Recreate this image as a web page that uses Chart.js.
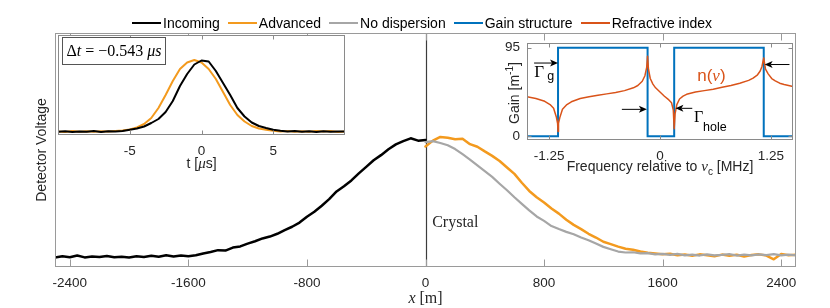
<!DOCTYPE html>
<html>
<head>
<meta charset="utf-8">
<script src="https://cdn.jsdelivr.net/npm/chart.js@4.4.1/dist/chart.umd.min.js"></script>
<style>
  html, body { margin: 0; padding: 0; background: #fff; }
  #wrap { position: relative; width: 830px; height: 308px; overflow: hidden; }
  canvas { position: absolute; display: block; }
  #legend {
    position: absolute; left: 132px; top: 15px; height: 16px; line-height: 16px;
    display: flex; align-items: center; white-space: nowrap;
    font: 14px "Liberation Sans", Arial, Helvetica, sans-serif; color: #000;
  }
  #legend .item { display: flex; align-items: center; margin-right: 8px; }
  #legend .ln { display: inline-block; width: 29px; margin-right: 2px; }
</style>
</head>
<body>
<div id="wrap">
  <canvas id="main" width="830" height="308" style="left:0;top:0"></canvas>
  <canvas id="pulse" width="320" height="150" style="left:40px;top:25px"></canvas>
  <canvas id="gain" width="350" height="150" style="left:470px;top:28px"></canvas>
  <div id="legend"></div>
</div>
<script>
const SANS = '"Liberation Sans", Arial, Helvetica, sans-serif';
const SERIF = '"Liberation Serif", "Times New Roman", serif';
const TXT = '#262626';
const C_IN = '#000000', C_ADV = '#F39A1E', C_ND = '#A6A6A6', C_GAIN = '#0072BD', C_N = '#D95319';

// main panel: position along fibre [m] vs detector voltage (arb.)
const mainXTicks = [-2400, -1600, -800, 0, 800, 1600, 2400];
const xIncoming = [-2500,-2450,-2400,-2350,-2300,-2250,-2200,-2150,-2100,-2050,-2000,-1950,-1900,-1850,-1800,-1750,-1700,-1650,-1600,-1550,-1500,-1450,-1400,-1350,-1300,-1250,-1200,-1150,-1100,-1050,-1000,-950,-900,-850,-800,-750,-700,-650,-600,-550,-500,-450,-400,-350,-300,-250,-200,-150,-100,-50,0];
const vIncoming = [4.0,4.6,4.2,4.9,4.1,4.5,4.3,4.7,4.2,4.4,4.1,4.6,4.3,4.8,4.4,5.0,4.5,4.9,4.6,5.0,5.8,6.4,7.2,7.0,8.3,8.8,10.0,11.0,12.2,13.0,14.2,15.8,17.2,19.0,21.5,23.6,26.2,29.0,32.3,34.5,37.0,40.0,42.8,45.6,47.8,50.3,52.4,53.8,55.0,54.0,54.3];
const xOut = [0,50,100,150,200,250,300,350,400,450,500,550,600,650,700,750,800,850,900,950,1000,1050,1100,1150,1200,1250,1300,1350,1400,1450,1500,1550,1600,1650,1700,1750,1800,1850,1900,1950,2000,2050,2100,2150,2200,2250,2300,2350,2400,2450,2500];
const vAdvanced = [51.5,54.0,55.6,55.2,54.6,54.8,52.5,51.4,49.4,47.5,45.3,42.5,39.8,36.0,32.5,29.8,27.6,25.0,22.8,20.2,18.0,16.2,14.2,12.6,10.8,9.8,8.7,7.8,7.4,6.6,6.1,5.8,5.4,5.7,5.0,5.3,4.8,5.4,5.0,4.6,5.3,4.8,5.2,4.5,5.1,5.4,4.9,3.3,5.6,5.0,5.2];
const vNoDisp = [53.4,53.8,53.0,52.0,50.4,48.2,45.9,43.4,41.0,38.5,35.6,32.8,29.8,27.0,24.2,21.6,19.7,17.5,16.2,15.0,14.0,12.6,11.4,10.0,8.6,7.6,6.6,6.2,6.3,5.8,5.9,5.4,5.6,5.2,5.6,5.0,5.3,4.9,5.4,5.0,5.2,5.5,4.9,5.3,5.0,5.4,5.1,5.5,5.0,5.3,5.0];

// inset 1: pulses in time [us]
const pulseTicks = [-5, 0, 5];
const tPulse = [-10,-9.5,-9,-8.5,-8,-7.5,-7,-6.5,-6,-5.5,-5,-4.5,-4,-3.5,-3,-2.5,-2,-1.5,-1,-0.5,0,0.5,1,1.5,2,2.5,3,3.5,4,4.5,5,5.5,6,6.5,7,7.5,8,8.5,9,9.5,10];
const pulseIn = [3.2,3.8,3.0,3.6,3.3,3.9,3.1,3.7,3.4,4.0,5.2,6.5,8.5,12,16,23,34,49,61,70.5,74.5,73.5,64,52,40,27,18.5,12.5,9,7,5.2,4.2,3.5,3.9,3.2,3.7,3.1,3.8,3.3,3.6,3.4];
const pulseAdv = [3.6,3.1,3.9,3.3,3.7,3.2,3.8,3.4,4.0,4.6,5.5,7.5,11,17,27,40,54,66,72.5,75,72.5,66,56,43,30,20,13.5,9,6.5,5.2,4.3,3.6,4.0,3.3,3.8,3.2,4.1,3.4,3.9,3.1,3.6];

// inset 2: gain structure and refractive index vs frequency [MHz]
const gainXTicks = [-1.25, 0, 1.25];
const gainYTicks = [0, 95];
const fGain = [-1.5,-1.15,-1.15,-0.14,-0.14,0.16,0.16,1.17,1.17,1.5];
const gGain = [0,0,95,95,0,0,95,95,0,0];
const fIndex = [-1.5,-1.4,-1.3,-1.24,-1.2,-1.17,-1.155,-1.15,-1.145,-1.13,-1.1,-1.05,-1.0,-0.9,-0.8,-0.7,-0.6,-0.5,-0.4,-0.3,-0.25,-0.2,-0.17,-0.15,-0.14,-0.13,-0.11,-0.08,-0.05,0,0.05,0.1,0.13,0.15,0.16,0.17,0.19,0.22,0.26,0.3,0.4,0.5,0.6,0.7,0.8,0.9,1.0,1.05,1.1,1.13,1.15,1.17,1.19,1.22,1.26,1.3,1.35,1.4,1.45,1.5];
const nIndex = [42.5,40.5,37.5,34,30,21,14,5,14,20,29,34,37,40.5,42.5,44,45.5,47,49,52,54.5,59,65,74,86,72,62,56,52,47.5,43,39,36,28,8,24,34,40,43,45,47.5,49,50.5,52.5,54.5,57,60,62.5,66,70,75,84,72,67,62,59.5,57,55.5,54.5,53.5];

const legendItems = [
  ['Incoming', C_IN, 2], ['Advanced', C_ADV, 2], ['No dispersion', C_ND, 1.5],
  ['Gain structure', C_GAIN, 2], ['Refractive index', C_N, 1.5]
];

const pts = (xs, ys) => xs.map((x, i) => ({ x, y: ys[i] }));

function richText(ctx, parts, x, y, align) {
  let w = 0;
  for (const p of parts) { ctx.font = p[1]; w += ctx.measureText(p[0]).width; }
  let cx = align === 'center' ? x - w / 2 : align === 'right' ? x - w : x;
  ctx.textAlign = 'left';
  for (const p of parts) {
    ctx.font = p[1];
    ctx.fillText(p[0], cx, y + (p[2] || 0));
    cx += ctx.measureText(p[0]).width;
  }
  return w;
}

function framePlugin(o) {
  return {
    id: 'frame' + o.name,
    beforeDraw(chart) {
      if (!o.fill) return;
      const { ctx, chartArea: a } = chart;
      ctx.save();
      ctx.fillStyle = '#fff';
      ctx.fillRect(a.left, a.top, a.width, a.height);
      ctx.restore();
    },
    afterDraw(chart) {
      const { ctx, chartArea: a, scales } = chart;
      const L = Math.round(a.left) + 0.5, T = Math.round(a.top) + 0.5;
      const R = Math.round(a.right) - 0.5, B = Math.round(a.bottom) - 0.5;
      ctx.save();
      ctx.strokeStyle = o.color;
      ctx.lineWidth = 1;
      ctx.strokeRect(L, T, R - L, B - T);
      ctx.beginPath();
      for (const v of o.xTicks || []) {
        const px = Math.round(scales.x.getPixelForValue(v)) + 0.5;
        ctx.moveTo(px, B); ctx.lineTo(px, B - o.len);
        ctx.moveTo(px, T); ctx.lineTo(px, T + o.len);
      }
      for (const v of o.yTicks || []) {
        const py = Math.round(scales.y.getPixelForValue(v)) + 0.5;
        ctx.moveTo(L, py); ctx.lineTo(L + o.len, py);
        ctx.moveTo(R, py); ctx.lineTo(R - o.len, py);
      }
      ctx.stroke();
      ctx.restore();
    }
  };
}

const tickFont = { family: SANS, size: 13.5 };
const baseOpts = {
  responsive: false,
  animation: false,
  events: [],
  elements: { point: { radius: 0 }, line: { tension: 0, borderJoinStyle: 'round', borderCapStyle: 'round' } },
  plugins: { legend: { display: false }, tooltip: { enabled: false } }
};

function xAxis(min, max, ticks, height) {
  return {
    type: 'linear', min, max,
    grid: { display: false, drawTicks: false },
    border: { display: false },
    afterBuildTicks: s => { s.ticks = ticks.map(v => ({ value: v })); },
    afterFit: s => { s.height = height; },
    ticks: { padding: 8, color: TXT, font: tickFont, maxRotation: 0, autoSkip: false, callback: v => String(v) }
  };
}

// ---------- main chart ----------
const mainDeco = {
  id: 'mainDeco',
  beforeDatasetsDraw(chart) {
    const { ctx, chartArea: a, scales: { x } } = chart;
    const px = Math.round(x.getPixelForValue(0)) + 0.5;
    ctx.save();
    ctx.strokeStyle = '#3c3c3c';
    ctx.lineWidth = 1.2;
    ctx.beginPath(); ctx.moveTo(px, a.top); ctx.lineTo(px, a.bottom); ctx.stroke();
    ctx.restore();
  },
  afterDraw(chart) {
    const { ctx, chartArea: a, scales: { x, y } } = chart;
    ctx.save();
    ctx.fillStyle = TXT;
    ctx.textBaseline = 'alphabetic';
    ctx.font = `16px ${SERIF}`;
    ctx.fillText('Crystal', x.getPixelForValue(45), y.getPixelForValue(17));
    richText(ctx, [['x', `italic 16px ${SERIF}`], [' [m]', `16px ${SERIF}`]], (a.left + a.right) / 2, 303, 'center');
    ctx.translate(42.5, (a.top + a.bottom) / 2);
    ctx.rotate(-Math.PI / 2);
    ctx.textAlign = 'center';
    ctx.textBaseline = 'middle';
    ctx.font = `14px ${SANS}`;
    ctx.fillText('Detector Voltage', 0, 0);
    ctx.restore();
  }
};

new Chart(document.getElementById('main'), {
  type: 'line',
  data: {
    datasets: [
      { label: 'No dispersion', data: pts(xOut, vNoDisp), borderColor: C_ND, borderWidth: 2.2, order: 0 },
      { label: 'Advanced', data: pts(xOut, vAdvanced), borderColor: C_ADV, borderWidth: 2.5, order: 1 },
      { label: 'Incoming', data: pts(xIncoming, vIncoming), borderColor: C_IN, borderWidth: 2.5, order: 2 }
    ]
  },
  options: {
    ...baseOpts,
    layout: { padding: { left: 55, right: 34, top: 33, bottom: 0 } },
    scales: {
      x: xAxis(-2500, 2500, mainXTicks, 41),
      y: { min: 0, max: 100, display: false }
    }
  },
  plugins: [mainDeco, framePlugin({ name: 'main', color: '#9a9a9a', xTicks: mainXTicks, len: 7 })]
});

// ---------- inset: pulses ----------
const pulseDeco = {
  id: 'pulseDeco',
  afterDraw(chart) {
    const { ctx, chartArea: a } = chart;
    ctx.save();
    const bx = Math.round(a.left + 4) + 0.5, by = Math.round(a.top + 2) + 0.5;
    ctx.fillStyle = '#fff';
    ctx.strokeStyle = '#555';
    ctx.lineWidth = 1;
    ctx.fillRect(bx, by, 103, 27);
    ctx.strokeRect(bx, by, 103, 27);
    ctx.fillStyle = '#000';
    ctx.textBaseline = 'alphabetic';
    richText(ctx, [
      ['\u0394', `16px ${SERIF}`], ['t', `italic 16px ${SERIF}`],
      [' = \u22120.543 ', `16px ${SERIF}`], ['\u03bcs', `italic 16px ${SERIF}`]
    ], bx + 51.5, by + 18, 'center');
    ctx.fillStyle = TXT;
    richText(ctx, [['t [', `14px ${SANS}`], ['\u03bc', `italic 15px ${SERIF}`], ['s]', `14px ${SANS}`]],
      (a.left + a.right) / 2, 143, 'center');
    ctx.restore();
  }
};

new Chart(document.getElementById('pulse'), {
  type: 'line',
  data: {
    datasets: [
      { label: 'Incoming', data: pts(tPulse, pulseIn), borderColor: C_IN, borderWidth: 2 },
      { label: 'Advanced', data: pts(tPulse, pulseAdv), borderColor: C_ADV, borderWidth: 2 }
    ]
  },
  options: {
    ...baseOpts,
    layout: { padding: { left: 18, right: 15, top: 10, bottom: 0 } },
    scales: {
      x: xAxis(-10, 10, pulseTicks, 40),
      y: { min: 0, max: 100, display: false }
    }
  },
  plugins: [framePlugin({ name: 'pulse', color: '#8a8a8a', xTicks: pulseTicks, len: 4, fill: true }), pulseDeco]
});

// ---------- inset: gain structure ----------
function arrow(ctx, x1, x2, y) {
  const dir = Math.sign(x2 - x1);
  ctx.beginPath();
  ctx.moveTo(x1, y); ctx.lineTo(x2 - dir * 6, y);
  ctx.stroke();
  ctx.beginPath();
  ctx.moveTo(x2, y);
  ctx.lineTo(x2 - dir * 8, y - 3.5);
  ctx.lineTo(x2 - dir * 6, y);
  ctx.lineTo(x2 - dir * 8, y + 3.5);
  ctx.closePath();
  ctx.fill();
}

const gainDeco = {
  id: 'gainDeco',
  afterDraw(chart) {
    const { ctx, chartArea: a, scales: { x, y } } = chart;
    const X = v => x.getPixelForValue(v), Y = v => y.getPixelForValue(v);
    ctx.save();
    ctx.fillStyle = '#000';
    ctx.strokeStyle = '#000';
    ctx.lineWidth = 1;
    arrow(ctx, X(-1.42), X(-1.15), Y(78.6));
    arrow(ctx, X(-0.43), X(-0.148), Y(28.9));
    arrow(ctx, X(0.364), X(0.174), Y(30));
    arrow(ctx, X(1.46), X(1.18), Y(77));
    ctx.textBaseline = 'alphabetic';
    ctx.textAlign = 'left';
    ctx.font = `17px ${SERIF}`;
    ctx.fillText('\u0393', X(-1.417), Y(64));
    ctx.font = `12.5px ${SANS}`;
    ctx.fillText('g', X(-1.273), Y(60));
    ctx.font = `16px ${SERIF}`;
    ctx.fillText('\u0393', X(0.383), Y(15.6));
    ctx.font = `12.5px ${SANS}`;
    ctx.fillText('hole', X(0.485), Y(6.1));
    ctx.fillStyle = C_N;
    richText(ctx, [['n(', `17px ${SANS}`], ['\u03bd', `italic 17px ${SERIF}`], [')', `17px ${SANS}`]], X(0.42), Y(59), 'left');
    // axis titles
    ctx.fillStyle = TXT;
    richText(ctx, [
      ['Frequency relative to ', `14px ${SANS}`], ['\u03bd', `italic 15px ${SERIF}`],
      ['c', `10px ${SANS}`, 4], [' [MHz]', `14px ${SANS}`]
    ], (a.left + a.right) / 2, 143, 'center');
    ctx.translate(45, (Y(95) + Y(0)) / 2 + 1);
    ctx.rotate(-Math.PI / 2);
    ctx.textBaseline = 'middle';
    richText(ctx, [['Gain [m', `14px ${SANS}`], ['-1', `10px ${SANS}`, -5], [']', `14px ${SANS}`]], 0, 0, 'center');
    ctx.restore();
  }
};

new Chart(document.getElementById('gain'), {
  type: 'line',
  data: {
    datasets: [
      { label: 'Refractive index', data: pts(fIndex, nIndex), borderColor: C_N, borderWidth: 1.5 },
      { label: 'Gain structure', data: pts(fGain, gGain), borderColor: C_GAIN, borderWidth: 2, borderJoinStyle: 'miter' }
    ]
  },
  options: {
    ...baseOpts,
    layout: { padding: { left: 0, right: 27, top: 10, bottom: 0 } },
    scales: {
      x: xAxis(-1.5, 1.5, gainXTicks, 38),
      y: {
        min: -4, max: 100,
        grid: { display: false, drawTicks: false },
        border: { display: false },
        afterBuildTicks: s => { s.ticks = gainYTicks.map(v => ({ value: v })); },
        afterFit: s => { s.width = 57; },
        ticks: { padding: 7, color: TXT, font: tickFont, callback: v => String(v) }
      }
    }
  },
  plugins: [framePlugin({ name: 'gain', color: '#8a8a8a', xTicks: gainXTicks, yTicks: gainYTicks, len: 4, fill: true }), gainDeco]
});

// ---------- legend ----------
const legend = document.getElementById('legend');
for (const [label, color, w] of legendItems) {
  const item = document.createElement('span');
  item.className = 'item';
  item.innerHTML = `<span class="ln" style="height:${w}px;background:${color}"></span><span>${label}</span>`;
  legend.appendChild(item);
}
</script>
</body>
</html>
